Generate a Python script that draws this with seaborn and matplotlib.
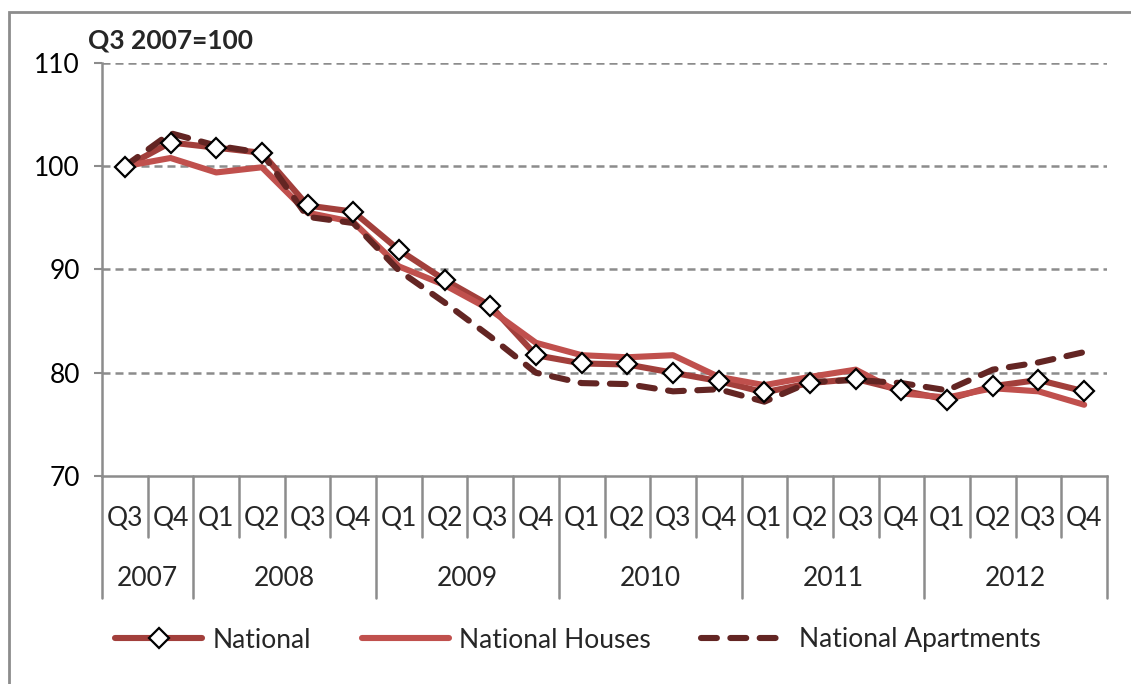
# house price index, national / houses / apartments
import numpy as np
import pandas as pd
import matplotlib.pyplot as plt
import matplotlib.transforms as mtrans
from matplotlib.lines import Line2D
from matplotlib.patches import Rectangle
import seaborn as sns

sns.set_theme(style='white')
plt.rcParams['font.family'] = ['Lato', 'DejaVu Sans']

# data
quarters = ['Q3', 'Q4',
            'Q1', 'Q2', 'Q3', 'Q4',
            'Q1', 'Q2', 'Q3', 'Q4',
            'Q1', 'Q2', 'Q3', 'Q4',
            'Q1', 'Q2', 'Q3', 'Q4',
            'Q1', 'Q2', 'Q3', 'Q4']
years = ['2007', '2008', '2009', '2010', '2011', '2012']
quarters_per_year = [2, 4, 4, 4, 4, 4]

national = [99.9, 102.3, 101.8, 101.3, 96.2, 95.6, 91.9, 89.0, 86.5, 81.7, 80.9,
            80.8, 80.0, 79.2, 78.1, 79.0, 79.4, 78.3, 77.4, 78.7, 79.3, 78.2]
houses = [100.0, 100.8, 99.4, 99.9, 95.5, 94.6, 90.3, 88.5, 86.1, 82.9, 81.7,
          81.5, 81.7, 79.6, 78.8, 79.6, 80.3, 78.0, 77.6, 78.5, 78.2, 76.9]
apartments = [100.0, 103.2, 102.0, 101.3, 95.1, 94.5, 89.9, 86.8, 83.5, 80.0, 79.0,
              78.9, 78.2, 78.4, 77.2, 79.1, 79.3, 79.0, 78.3, 80.3, 81.0, 82.0]

c_nat = '#A23F3B'
c_hou = '#C0504D'
c_apt = '#632523'
fs = 19
apt_dash = (0, (2.6, 2.2))

pos = np.arange(len(quarters))
df = pd.DataFrame({'pos': pos, 'National': national,
                   'National Houses': houses, 'National Apartments': apartments})

fig = plt.figure(figsize=(11.31, 6.84), dpi=100)
ax = fig.add_axes([102/1131, 1-476/684, (1107-102)/1131, (476-63)/684])

grid_kw = dict(color='#8C8C8C', lw=1.8, linestyle=(0, (3.2, 2.0)), zorder=0)
for g in [80, 90, 100, 110]:
    ax.axhline(g, **grid_kw)

sns.lineplot(data=df, x='pos', y='National Houses', color=c_hou, lw=4.4,
             solid_capstyle='round', ax=ax, zorder=2)
sns.lineplot(data=df, x='pos', y='National Apartments', color=c_apt, lw=4.4,
             linestyle=apt_dash, dash_capstyle='round', ax=ax, zorder=3)
sns.lineplot(data=df, x='pos', y='National', color=c_nat, lw=4.4,
             solid_capstyle='round', ax=ax, zorder=1)
ax.plot(pos, national, ls='none', marker='D', ms=10, mfc='white', mec='black',
        mew=1.6, zorder=4)

ax.set_xlim(-0.5, len(quarters) - 0.5)
ax.set_ylim(70, 110)
ax.set_yticks([70, 80, 90, 100, 110])
ax.set_xticks([])
ax.set_xlabel('')
ax.set_ylabel('')
ax.tick_params(axis='y', labelsize=fs, length=6, width=1.5, color='#8C8C8C',
               direction='out', pad=10, left=True, labelcolor='black')
for s in ['top', 'right']:
    ax.spines[s].set_visible(False)
for s in ['left', 'bottom']:
    ax.spines[s].set_color('#8C8C8C')
    ax.spines[s].set_linewidth(1.8)

# two-level category axis
trans = mtrans.blended_transform_factory(ax.transData, ax.transAxes)
h = 476 - 63
q_bot = -(537 - 476) / h
y_bot = -(598 - 476) / h
for i, q in enumerate(quarters):
    ax.text(i, -(518 - 476) / h, q, transform=trans, ha='center', va='center',
            fontsize=fs)
edges = np.concatenate([[0], np.cumsum(quarters_per_year)]) - 0.5
for e in np.arange(len(quarters) + 1) - 0.5:
    bot = y_bot if e in edges else q_bot
    ax.add_line(Line2D([e, e], [0, bot], transform=trans, color='#8C8C8C',
                       lw=1.8, clip_on=False))
for yr, a, b in zip(years, edges[:-1], edges[1:]):
    ax.text((a + b) / 2, -(578 - 476) / h, yr, transform=trans, ha='center',
            va='center', fontsize=fs)

fig.text(88/1131, 1-40/684, 'Q3 2007=100', fontsize=fs, fontweight='bold',
         ha='left', va='center')

handles = [Line2D([], [], color=c_nat, lw=4.4, marker='D', ms=10, mfc='white',
                  mec='black', mew=1.6, solid_capstyle='round'),
           Line2D([], [], color=c_hou, lw=4.4, solid_capstyle='round'),
           Line2D([], [], color=c_apt, lw=4.4, linestyle=apt_dash,
                  dash_capstyle='round')]
fig.legend(handles, ['National', 'National Houses', 'National Apartments'],
           loc='center', bbox_to_anchor=(578/1131, 1-640/684), ncol=3,
           frameon=False, fontsize=fs, handlelength=3.3, handletextpad=0.4,
           columnspacing=1.9)

fig.patches.append(Rectangle((9/1131, -0.1), 1.2, 1-12/684 + 0.1,
                             transform=fig.transFigure, fill=False,
                             edgecolor='#8C8C8C', lw=2))

fig.savefig('out.png', dpi=100)
